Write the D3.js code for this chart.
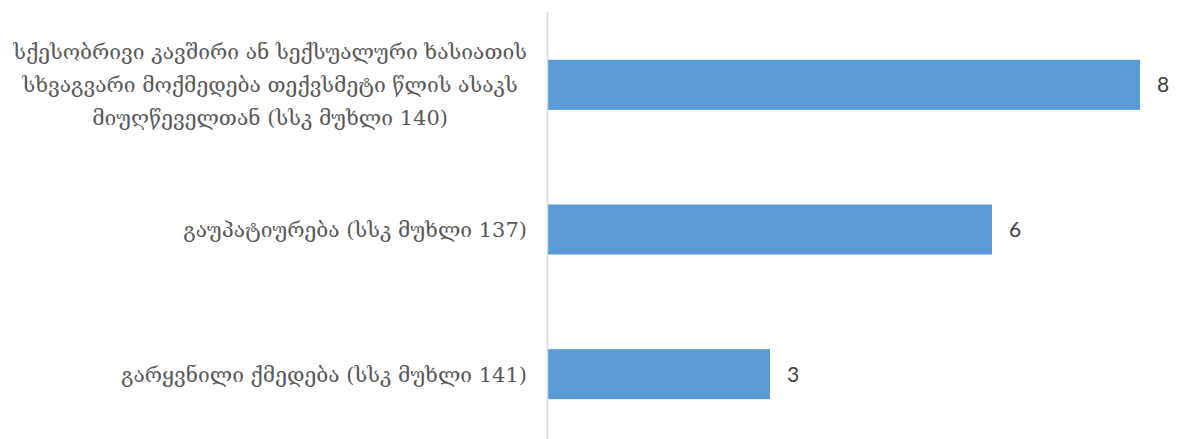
<!DOCTYPE html>
<html>
<head>
<meta charset="utf-8">
<script src="https://cdn.jsdelivr.net/npm/d3@7"></script>
<style>
  html, body { margin: 0; padding: 0; background: #fff; }
</style>
</head>
<body>
<script>
// Chart data
var categories = [
    ["სქესობრივი კავშირი ან სექსუალური ხასიათის",
     "სხვაგვარი მოქმედება თექვსმეტი წლის ასაკს",
     "მიუღწეველთან (სსკ მუხლი 140)"],
    ["გაუპატიურება (სსკ მუხლი 137)"],
    ["გარყვნილი ქმედება (სსკ მუხლი 141)"]
];
var values = [8, 6, 3];

var width = 1178, height = 439;
var labelFont = "'DejaVu Serif', serif";

var svg = d3.select("body").append("svg")
            .attr("width", width)
            .attr("height", height);

var x = d3.scaleLinear()
          .domain([0, 8])
          .range([548, 1140]);

var y = d3.scaleBand()
          .domain(d3.range(values.length))
          .range([12.5, 446.5])
          .paddingInner(0.654)
          .paddingOuter(0.327);

// Bars
svg.selectAll("rect.bar")
   .data(values)
   .enter().append("rect")
   .attr("class", "bar")
   .attr("x", x(0))
   .attr("y", function (d, i) { return y(i); })
   .attr("width", function (d) { return x(d) - x(0); })
   .attr("height", y.bandwidth())
   .style("fill", "#5b9bd5");

// Vertical axis line
svg.append("line")
   .attr("x1", x(0) - 0.5).attr("x2", x(0) - 0.5)
   .attr("y1", 12).attr("y2", 446)
   .style("stroke", "#d9d9d9")
   .style("stroke-width", 1.5);

// Value labels
svg.selectAll("text.val")
   .data(values)
   .enter().append("text")
   .attr("class", "val")
   .attr("x", function (d) { return x(d) + 17; })
   .attr("y", function (d, i) { return y(i) + y.bandwidth() / 2; })
   .attr("dy", "0.35em")
   .attr("font-family", "Lato, sans-serif")
   .attr("font-size", 21)
   .style("fill", "#404040")
   .text(function (d) { return d; });

// Category labels, wrapped lines centred within the block, block right aligned
var labelRight = 527, lineH = 33;
categories.forEach(function (lines, i) {
    var g = svg.append("g");
    var cy = y(i) + y.bandwidth() / 2;
    var texts = lines.map(function (ln, j) {
        return g.append("text")
                .attr("y", cy + (j - (lines.length - 1) / 2) * lineH)
                .attr("dy", "0.35em")
                .attr("font-family", labelFont)
                .attr("font-size", 21)
                .attr("text-anchor", "middle")
                .style("fill", "#595959")
                .text(ln);
    });
    var maxW = d3.max(texts, function (t) { return t.node().getComputedTextLength(); });
    texts.forEach(function (t) { t.attr("x", labelRight - maxW / 2); });
});
</script>
</body>
</html>
